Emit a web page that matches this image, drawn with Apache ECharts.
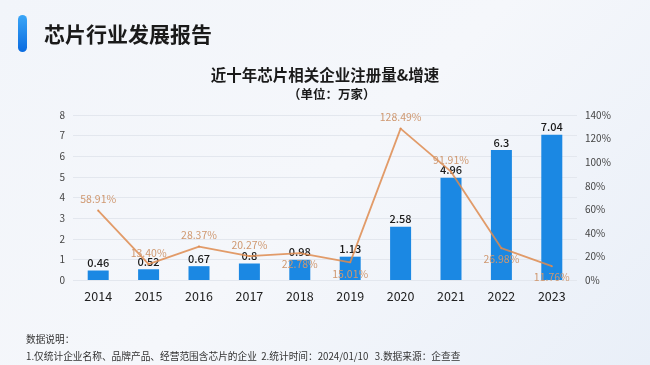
<!DOCTYPE html>
<html><head><meta charset="utf-8">
<style>
html,body{margin:0;padding:0;}
body{width:650px;height:365px;background:linear-gradient(135deg,#f2f5fa 0%,#f5f7fb 50%,#e9eff8 100%);}
#c{width:650px;height:365px;}
</style>
<script src="https://cdn.jsdelivr.net/npm/echarts@6/dist/echarts.min.js"></script>
</head><body><div id="c"></div>
<script>
const years = ['2014','2015','2016','2017','2018','2019','2020','2021','2022','2023'];
const registrations = [0.46,0.52,0.67,0.8,0.98,1.13,2.58,4.96,6.3,7.04];
const growthRate = [58.91,13.40,28.37,20.27,22.78,15.01,128.49,91.91,26.98,11.76];
const growthLabelPos = ['top','top','top','top','bottom','bottom','top','top','bottom','bottom'];
const leftTicks = {min:0,max:8,interval:1};
const rightTicks = {min:0,max:140,interval:20};

const chart = echarts.init(document.getElementById('c'));
const font = '"Noto Sans CJK SC","Noto Sans",sans-serif';
chart.setOption({
  textStyle:{fontFamily:font},
  title:[
    {text:'芯片行业发展报告',left:39,top:19,textStyle:{fontSize:21,fontWeight:'bold',color:'#1a1a1a',fontFamily:font}},
    {text:'近十年芯片相关企业注册量&增速',left:'center',top:62,textStyle:{fontSize:15.5,fontWeight:'bold',color:'#1a1a1a',fontFamily:font}},
    {text:'（单位：万家）',left:283,top:83,textStyle:{fontSize:12.5,fontWeight:'bold',color:'#1a1a1a',fontFamily:font}},
    {text:'数据说明：',left:21,top:329,textStyle:{fontSize:9.7,fontWeight:'normal',color:'#333',fontFamily:font}},
    {text:'1.仅统计企业名称、品牌产品、经营范围含芯片的企业  2.统计时间：2024/01/10   3.数据来源：企查查',left:21,top:346,textStyle:{fontSize:9.7,fontWeight:'normal',color:'#333',fontFamily:font}}
  ],
  graphic:[
    {type:'rect',shape:{x:18,y:15,width:9,height:37,r:4.5},style:{fill:new echarts.graphic.LinearGradient(0,0,0,1,[{offset:0,color:'#3aa6f7'},{offset:1,color:'#0a6be0'}])}}
  ],
  grid:{left:73,right:73,top:115,bottom:85},
  xAxis:{type:'category',data:years,axisLine:{show:false},axisTick:{show:false},
    axisLabel:{fontSize:12.5,color:'#222',margin:10}},
  yAxis:[
    {type:'value',min:leftTicks.min,max:leftTicks.max,interval:leftTicks.interval,
      axisLabel:{fontSize:10,color:'#444',margin:8},
      splitLine:{lineStyle:{color:'#e3e7ee'}},axisLine:{show:false},axisTick:{show:false}},
    {type:'value',min:rightTicks.min,max:rightTicks.max,interval:rightTicks.interval,
      axisLabel:{fontSize:10,color:'#444',formatter:'{value}%',margin:8},
      splitLine:{show:false},axisLine:{show:false},axisTick:{show:false}}
  ],
  series:[
    {type:'bar',data:registrations,barWidth:21,yAxisIndex:0,z:2,
      itemStyle:{color:'#1b88e3'},
      label:{show:true,position:'top',distance:2,fontSize:11,color:'#1a1a1a',fontWeight:500}},
    {type:'line',yAxisIndex:1,z:3,symbol:'circle',symbolSize:2,showSymbol:true,
      itemStyle:{color:'#de8b4f'},
      data:growthRate.map((v,i)=>({value:v,label:{show:true,position:growthLabelPos[i]}})),
      lineStyle:{color:'#de8b4f',width:1.8,opacity:0.85},
      labelLayout:{hideOverlap:false},
      label:{show:true,fontSize:10.5,color:'#cf9870',distance:5,formatter:p=>p.value.toFixed(2)+'%'}}
  ]
});
</script></body></html>
